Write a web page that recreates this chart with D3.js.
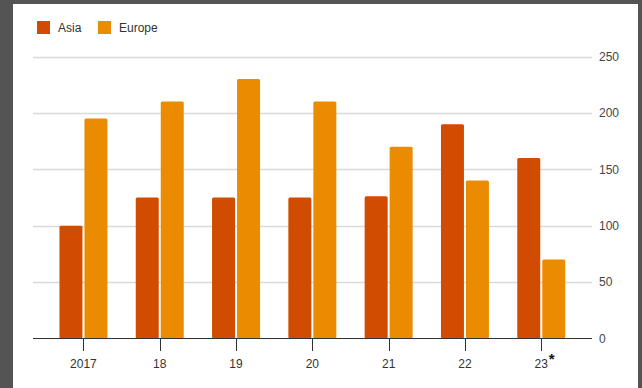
<!DOCTYPE html>
<html><head><meta charset="utf-8">
<script src="https://cdn.jsdelivr.net/npm/d3@7"></script>
<style>
html,body{margin:0;padding:0;background:#545454;}
svg{display:block;}
</style></head>
<body>
<script>
const categories = ["2017","18","19","20","21","22","23"];
const seriesNames = ["Asia","Europe"];
const asia = [100,125,125,125,126,190,160];
const europe = [195,210,230,210,170,140,70];
const yTicks = [0,50,100,150,200,250];
const noteMarker = "*";
const colors = {Asia:"#d14b00", Europe:"#eb8c00"};

const W=642,H=388;
const svg=d3.select("body").append("svg").attr("width",W).attr("height",H);
svg.append("rect").attr("x",0).attr("y",0).attr("width",W).attr("height",H).attr("fill","#545454");
svg.append("rect").attr("x",13).attr("y",4).attr("width",625).attr("height",H-4).attr("fill","#ffffff");

const font="'Liberation Sans', Arial, sans-serif";
const gx0=33,gx1=592;
const y=d3.scaleLinear().domain([0,250]).range([338.5,56.5]);
const x=d3.scaleBand().domain(categories).range([45.3,579.4]).paddingInner(0.371).paddingOuter(0.1855);
const xs=d3.scaleBand().domain(seriesNames).range([0,x.bandwidth()]).paddingInner(0.08);

// gridlines
svg.append("g").selectAll("line").data(yTicks.filter(d=>d>0)).join("line")
  .attr("x1",gx0).attr("x2",gx1).attr("y1",d=>Math.round(y(d))+0.5).attr("y2",d=>Math.round(y(d))+0.5)
  .attr("stroke","#d9d9d9").attr("stroke-width",1.5);

// y labels
svg.append("g").selectAll("text").data(yTicks).join("text")
  .attr("x",599).attr("y",d=>y(d)).attr("dy","0.36em")
  .attr("font-family",font).attr("font-size",12).attr("fill","#444").text(d=>d);

// bars
const rows=categories.map((c,i)=>({c,vals:[{s:"Asia",v:asia[i]},{s:"Europe",v:europe[i]}]}));
const g=svg.append("g");
rows.forEach(r=>{
  g.selectAll(null).data(r.vals).join("rect")
   .attr("x",d=>x(r.c)+xs(d.s)).attr("width",xs.bandwidth())
   .attr("y",d=>y(d.v)).attr("height",d=>y(0)-y(d.v))
   .attr("rx",1.5).attr("fill",d=>colors[d.s]);
});

// baseline
svg.append("line").attr("x1",gx0).attr("x2",gx1).attr("y1",338.5).attr("y2",338.5).attr("stroke","#333").attr("stroke-width",1);
// x ticks
svg.append("g").selectAll("line").data(categories).join("line")
  .attr("x1",d=>Math.round(x(d)+x.bandwidth()/2)+0.5).attr("x2",d=>Math.round(x(d)+x.bandwidth()/2)+0.5)
  .attr("y1",338.5).attr("y2",351).attr("stroke","#333");
svg.append("g").selectAll("text").data(categories).join("text")
  .attr("x",d=>x(d)+x.bandwidth()/2).attr("y",368).attr("text-anchor","middle")
  .attr("font-family",font).attr("font-size",12).attr("fill","#333").text(d=>d);
const last=categories[categories.length-1];
svg.append("text").attr("x",x(last)+x.bandwidth()/2+7.5).attr("y",364)
  .attr("font-family",font).attr("font-size",15).attr("font-weight","bold").attr("fill","#111").text(noteMarker);

// legend
const lx=[37,98];
seriesNames.forEach((s,i)=>{
  svg.append("rect").attr("x",lx[i]).attr("y",21).attr("width",13).attr("height",13).attr("fill",colors[s]);
  svg.append("text").attr("x",lx[i]+21).attr("y",32).attr("font-family",font).attr("font-size",12).attr("fill","#333").text(s);
});
</script>
</body></html>
